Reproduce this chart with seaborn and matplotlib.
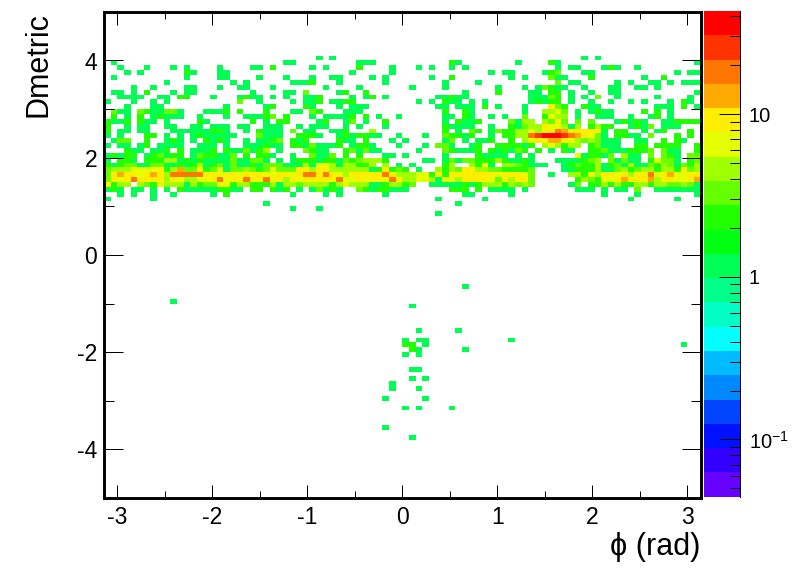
import numpy as np
import pandas as pd
import matplotlib
matplotlib.use("Agg")
import matplotlib.pyplot as plt
from matplotlib.colors import ListedColormap, LogNorm
import seaborn as sns

# occupied bins per Dmetric row (row 0 = top), "column:count", plain column = 1 entry
rows_left = {
    10: "1 27 28",
    11: "2 6 10 12 17 22 23 25:2 31",
    12: "3 5 12:2 13 17 18",
    13: "1 12 17 18 23 27",
    14: "9 19 21 28 29 30 31",
    15: "4 7 12 13 17 20 21 25",
    16: "1 2 4 6:2 10 12 13 22 27 28 30:3",
    17: "2 3 4 5 8 9 11:2 12:2 16 20 21:2 22 23 25 27 30 31",
    18: "0 4 7 9 20:3 23 28 30 31",
    19: "3 7 8 18 24 25:2 30:2 31:2",
    20: "1:3 2 3 5:3 6:2 7 8 9:3 10:3 11 15 16 17 18:2 20:2 24:2 28 29",
    21: "1:2 3 5:2 7 8:2 9 10 11 14 18 21 22 23 24:2 25:3 27:2",
    22: "0:2 1 2 3:2 5:2 6 7 9 14:2 15 22:2 24 26:2 27:2",
    23: "0:2 3 5 6 9 10 13 14 16 17 18 20 21 24 25 26 29",
    24: "0:2 2 3 5 6 10 11 12 13 14 15 16:2 17:2 18 21 23:2 24 25 26 28:3 30",
    25: "0 2 6:2 7:2 9 11 13 14:2 15 16 17 18 19 23:3 24 25 26 29:2 30:2 31",
    26: "1 2:3 3:3 6:2 9 10:2 11 13 15:2 16 17:2 18 21 23 24 25:2 26:3 28:2 29 30:2",
    27: "0 2 3 5 6:2 8 9 10 11 14 15 16 18 21 22 23 24:2 25 26 28:2 29:2 30",
    28: "3:2 4 5 7 8 9:2 11:2 13 14 15 16:2 18:2 19 20 21:3 22 23:2 24:5 26 30:3",
    29: "0 1:2 2 3:2 4:2 6 7:2 8:3 9 10:2 11:2 13 14:3 15:2 16:2 17 18 19:3 21:2 23:2 24:2 25 28",
    30: "0 2:2 3:2 4 6:2 7:2 8:2 9:5 10:5 11 12:2 13 14:2 15 16 17 18 19:3 20 21 22:3 23:3 24 26 28 29:2 30:2 31:2",
    31: "0:2 1 2:2 3:3 4:3 5 6 7:3 8:3 9 10 11:2 12 13:2 14:5 15 16:2 17:3 18 19:3 20 21 22:2 23 24:3 25:3 26:3 27 28 29 30 31:2",
    32: "0:3 1:5 2:5 3:5 4:6 5:6 6:6 7:6 8:9 9:2 10:5 11:13 12:3 13:3 14:9 15:2 16:3 17:6 18 19:3 20:3 21:5 22:3 23:2 24:3 25:6 26:3 27:3 28:3 29:9",
    33: "0:3 1:9 2:13 3:9 4:9 5:6 6:9 7:13 8:9 9:5 10:18 11:18 12:18 13:18 14:18 15:9 16:9 17:6 18:9 19:9 20:6 21:9 22:9 23:9 24:6 25:6 26:9 27:9 28:6 29:9",
    34: "0:3 1:9 2:6 3:9 4:18 5:9 6:9 7:9 8:9 9:5 10:9 11:6 12:5 13:5 14:6 15:6 16:9 17:18 18:6 19:9 20:9 21:18 22:9 23:9 24:18 25:9 26:9 27:5 28:9 29:6",
    35: "0:9 1:2 2:5 3:5 5:5 6:3 7:2 8:6 9:5 10:5 11:5 12 13:5 14:2 15:3 16:3 17:6 18:6 19:2 20:5 21:5 22:2 23:2 24:2 25:5 26 27:5 28:5 29:3",
    36: "0 1:2 2 4 5 7 9 11:2 12 13 14 15 16 17:2 18:2 19 20 22:2 23:2 25:2 26 27:2 29",
    37: "2 4 7 10 16 18:2 28",
    38: "0 7",
    39: "24",
    40: "28",
}

rows_mid = {
    9: "32 34",
    10: "38 39 40 52:2 53",
    11: "31 33 38:2 43 47 49 52 54",
    12: "37 43 58 60 61",
    13: "31 34 35 40 42 49 52:2 61",
    14: "30 31:2 35 42 51 56",
    15: "33 38 46 51 59",
    16: "30:3 35 36:2 39:2 54 59:2",
    17: "30 31 32:2 37 39 40:2 42 50 51 52:2 53 54",
    18: "30 32:2 34 35 36:2 37:2 47 49 51:2 52 53 55 57",
    19: "30:2 31 35 37 38 39 50 51 53 54 55 57:2 59",
    20: "31:3 32:2 36 37 38 51:2 54:2 55",
    21: "31 33 34 35 36 37:2 39:2 41 44 51 52 54:2 55 58 60",
    22: "32 33:2 36 37:3 39 42:2 51 53:2 54 55 56:2 61:3",
    23: "31 32 33 36 38 42 51:2 52 53 54 55 58 61:3",
    24: "31 34 35 36:2 40:5 51:2 53 55:3 56:2 58 59:3 60:2 61:3",
    25: "30:2 31:2 32 35 36:2 37 38:2 39:2 40 41 44 48 51:3 52:2 53:2 54 55:2 58 60:2 61:2",
    26: "30:2 35:2 36 37 39:2 43 45 51 52:3 54 56 57 58:2",
    27: "30 31:3 32 33 34 35:2 37 38:2 39:2 40 44 48 50:3 51:3 52 55 56:2 59:2 60:2 61:2",
    28: "30:3 31:2 32 33 36:2 37:3 38 39:3 40 41 47 51:3 52:2 53 54 55 56:2 58:2 59:2 60:2 61",
    29: "31:3 32 33 34:3 36:2 38:2 42 43 45 51 56:2 57 58 59 60",
    30: "30:2 31:2 32 33:2 34:2 35 36:3 37:2 38:3 39:5 40:5 41:5 42:2 48 49 51 52:3 53 54:3 55:3 56:2 57:2 58:2 59:5 60:3 61",
    31: "30:5 31 32:6 33:6 34:5 35 36:5 37:5 38:2 39:2 40:5 42:5 44 46 51:2 52:5 55:5 56:2 57:6 58 60:5 61:2",
    32: "30:9 31:5 32:9 33:9 34:5 35:5 36:5 37:5 38:5 39:5 40 41:2 42:9 43:2 44:3 45:2 47 50:5 51:2 52:5 53:3 54:9 55:9 56:5 57:5 58:3 59:3 60:2 61:3",
    33: "30:18 31:18 32:9 33:18 34:9 35:6 36:5 37:9 38:9 39:9 40:9 41:9 42:18 43:9 44:5 45:5 46:5 47:6 48:6 49:2 50:9 51:2 52:9 53:9 54:9 55:9 56:9 57:9 58:9 59:9 60:9 61:9",
    34: "30:9 31:9 32:9 33:9 34:9 35:18 36:6 37:6 38:9 39:6 40:9 41:9 42:6 43:18 44:9 45:5 46:5 47:6 48:6 49:5 50 51:6 52:6 53:5 54:9 55:9 56:9 57:9 58:6 59:3 60:5 61:9",
    35: "30:5 31:5 32:5 33:5 34:2 35:5 36:6 37:5 38:5 39:5 40 41 42:2 43:5 44:5 45:2 46:3 49 50 51 52 53 54:2 55 56:2 57:5 58:5 59:5 60:2 61:5",
    36: "31 32:3 33 34:2 35 38:3 39:2 40 41:2 42:2 43 44 45 52:2 53:2 54:2 56:2 58 59 60",
    37: "33 35 42 54 55 61",
    38: "50 57",
    39: "53",
    40: "32",
    41: "50",
}

rows_right = {
    9: "72 74",
    10: "62 67:2 68 89",
    11: "68 70 71 75 76:2 77 80",
    12: "60 61 66 67:2 68:3 72 73 86 88 89",
    13: "61 63 67:3 68 69 73:2 81 84:2",
    14: "68:3 70 71 77 79 82 83 85 87 88 89",
    15: "59 63 65 66:3 67:2 68 69 72 76 77 80 81 83",
    16: "59:2 64 65 67:2 68:2 70 73 76 77 89",
    17: "64 65 66 67:3 68:2 70 72 74:3 77 83 88",
    18: "64 65:2 66 67:2 68:2 70 73 76 79 81 85 87:2 88",
    19: "59 63 67:9 68:3 69:2 72:2 73 74 83 84 85 87:2 89",
    20: "63 66:5 67:5 68:6 69:3 71 73 74:2 75 76 81:2 83:2 85",
    21: "60 63:3 66:2 67:6 68:5 69:5 71 74 75 76 79 82 83:2 85",
    22: "61:3 62 63:5 64:5 66:5 67:3 68:9 69:3 71:3 73:3 77 78:2 79 80:2 81 84 85 86:2 87:2 88:2 89:2",
    23: "61:2 62 63:3 64:5 65:5 66:9 67:6 68:6 69:5 70 71:5 73:2 74:5 75:2 76:2 79 80:2 81 82:3 84 85 86",
    24: "59:3 60:2 61:2 62:5 63:5 64:6 65:5 66:9 67:9 68:18 69:13 70:9 71:9 72:9 73:9 74:9 75 77:2 78:2 81 83 84:2 88:2",
    25: "61:2 62:5 63:5 64:18 65:25 66:35 67:35 68:35 69:25 70:18 71:13 72:9 73:6 74:3 75 77:2 78:2 79 80 82:3 86:2 88:2",
    26: "61:2 63:5 64:6 65:9 66:9 67:13 68:13 69:9 70:6 71:5 72:3 73:5 74:3 75 76 77 80 81 84:2 86:2 87",
    27: "59:2 60:2 61:2 62:2 63 64:2 66:5 67:6 68:5 69:2 70:5 71:5 73:2 74:3 75 76 77 80:2 81:2 83:2 84:2 85:2 86:2 89:2",
    28: "59 60:2 61 62:3 63:2 65:2 67 69:2 70 73:2 74:2 75:3 76 77 78 79:2 80:2 81:2 82:3 84:3 85 86 89:2",
    29: "59 60 62 64 71:6 72 73:2 74:2 75 76:3 78:5 79 80 82:3 84:3 85:2 86 88:3 89:3",
    30: "59:5 60:2 61 62 63:2 64 68 69 70 71 72:2 73:3 74:5 76:3 77 78:3 79 80 82:2 83:6 84:3 85:3 86 88:2 89:3",
    31: "60:5 61:5 62:3 63:2 64 65 66 69 70:2 71:3 72:2 73:2 74:5 75 76:2 77:3 78 79:5 80 81 82:3 83:2 84:5 85:3 86 87:3 88:2 89:5",
    32: "59:3 60:2 61:2 62:2 63:2 64:3 69 70 71:2 72:2 73:2 74:5 75 76 77:3 78:5 79:2 80:3 81:5 82:5 83:2 84:5 85:5 86:2 87:9 88:3 89:5",
    33: "59:6 60:9 61:9 62:9 63:6 64:3 67 70:5 71:5 72:2 73:6 74:5 75:9 76:9 77:6 78:9 79:5 80:9 81:9 82:18 83:6 84:9 85:13 86:6 87:6 88:9 89:9",
    34: "59:3 60:9 61:5 62:9 63:9 64:3 71:2 72:5 73:3 74:2 75:6 76:6 77:9 78:13 79:9 80:9 81:9 82:13 83:5 84:9 85:9 86:6 87:6 88:9 89:13",
    35: "59:5 60:2 61:5 62:3 63:5 64:3 70 71:3 73:2 74:2 75:5 76:2 77:5 78:2 79:2 80:5 81:5 82:2 83:5 84:5 85:3 86:3 87:5 88:3 89",
    36: "59 60 61 63 71 72 73 75 77 78 80:3 83 84 85 86 87 88 89",
    37: "61 75 80 89",
    38: "79 86",
}

rows_low = {
    56: "54",
    59: "10",
    60: "46",
    65: "47 53",
    67: "45 47 48 61",
    68: "45:2 46:2 48 87",
    69: "46:2 47 54",
    70: "45 47",
    73: "46 47",
    75: "46 48",
    76: "43",
    77: "43 47",
    79: "42 48",
    81: "45 47 52",
    85: "42",
    87: "46",
}

phi_bins = 90
d_bins = 100
phi_ticks = [-3, -2, -1, 0, 1, 2, 3]
phi_minor = [-2.5, -1.5, -0.5, 0.5, 1.5, 2.5]
d_ticks = [4, 2, 0, -2, -4]
d_minor = [3, 1, -1, -3]
z_min = 0.0445
z_max = 43
z_ticks = [0.1, 1, 10]
z_labels = [r"$\mathregular{10^{-1}}$", "1", "10"]
z_minor = [0.05, 0.06, 0.07, 0.08, 0.09, 0.2, 0.3, 0.4, 0.5, 0.6, 0.7, 0.8, 0.9,
           2, 3, 4, 5, 6, 7, 8, 9, 20, 30, 40]
palette = ["#6600ff", "#3300ff", "#0011ff", "#0044ff", "#0088ff", "#00bbff", "#00ffff",
           "#00ffc4", "#00ff88", "#00ff55", "#00ff11", "#22ff00", "#66ff00", "#a0ff00",
           "#e5ff00", "#ffee00", "#ffaa00", "#ff7700", "#ff3300", "#ff0000"]

# fill the histogram
counts = np.full((d_bins, phi_bins), np.nan)
for part in [rows_left, rows_mid, rows_right, rows_low]:
    for row, text in part.items():
        for token in text.split():
            col, _, val = token.partition(":")
            counts[row, int(col)] = float(val) if val else 1.0
df = pd.DataFrame(counts)

plt.rcParams["font.family"] = ["Liberation Sans", "DejaVu Sans"]
plt.rcParams["mathtext.fontset"] = "custom"
plt.rcParams["mathtext.rm"] = "Liberation Sans"

W, H = 796, 572
fig = plt.figure(figsize=(W / 100, H / 100), dpi=100)
ax = fig.add_axes([104 / W, 1 - 497.9 / H, 596.6 / W, 486 / H])
cax = fig.add_axes([704 / W, 1 - 496.7 / H, 36.3 / W, 485.7 / H])

sns.heatmap(df, ax=ax, cbar_ax=cax, cmap=ListedColormap(palette),
            norm=LogNorm(vmin=z_min, vmax=z_max), xticklabels=False, yticklabels=False)


def px_phi(v):
    return (np.asarray(v) + np.pi) / (2 * np.pi) * phi_bins


def px_d(v):
    return (5 - np.asarray(v)) / 10 * d_bins


ax.set_xticks(px_phi(phi_ticks))
ax.set_xticklabels([str(v) for v in phi_ticks], fontsize=16.5, rotation=0)
ax.set_xticks(px_phi(phi_minor), minor=True)
ax.set_yticks(px_d(d_ticks))
ax.set_yticklabels([str(v) for v in d_ticks], fontsize=16.5, rotation=0)
ax.set_yticks(px_d(d_minor), minor=True)

ax.tick_params(axis="x", which="major", direction="in", length=9.4, width=0.72, top=True, bottom=True, pad=6)
ax.tick_params(axis="x", which="minor", direction="in", length=4.7, width=0.72, top=True, bottom=True)
ax.tick_params(axis="y", which="major", direction="in", length=14, width=0.72, left=True, right=True, pad=5)
ax.tick_params(axis="y", which="minor", direction="in", length=7, width=0.72, left=True, right=True)

for s in ax.spines.values():
    s.set_visible(True)
    s.set_linewidth(2.1)
    s.set_color("black")

ax.set_xlabel("\u03d5 (rad)", fontsize=22, loc="right", labelpad=2)
ax.set_ylabel("Dmetric", fontsize=22, loc="top", labelpad=17)

# colour scale
cax.set_yticks(z_ticks)
cax.set_yticklabels(z_labels, fontsize=14.5)
cax.set_yticks(z_minor, minor=True)
cax.tick_params(axis="y", which="major", direction="in", length=15, width=0.72, right=True, left=False, pad=6)
cax.tick_params(axis="y", which="minor", direction="in", length=7.5, width=0.72, right=True, left=False, labelright=False)
for name, s in cax.spines.items():
    s.set_visible(name == "right")
    s.set_linewidth(0.72)

fig.savefig("out.png", dpi=100)
